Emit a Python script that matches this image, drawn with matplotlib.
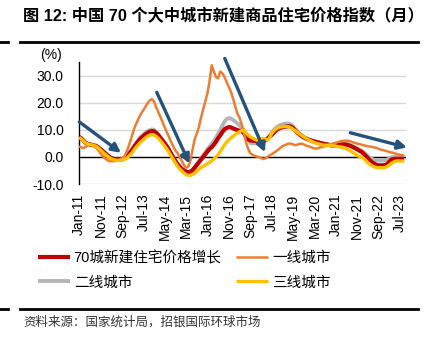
import matplotlib
matplotlib.use("Agg")
import matplotlib.pyplot as plt
import numpy as np

plt.rcParams["font.family"] = ["Liberation Sans", "Noto Sans CJK SC", "DejaVu Sans"]

# --- Data: YoY change (%), monthly Jan-11 .. Sep-23 ---
city70 = [
    7.3, 6.8, 6.0, 5.2, 4.8, 4.6, 4.4, 4.2, 4.0, 3.5, 2.8, 2.2,
    1.5, 0.8, 0.1, -0.4, -0.7, -0.9, -1.0, -1.0, -0.9, -0.6, 0.0, 0.8,
    1.8, 2.8, 4.0, 5.1, 6.1, 7.0, 7.6, 8.3, 8.9, 9.3, 9.5, 9.4,
    8.8, 8.0, 7.0, 6.0, 5.0, 3.9, 2.6, 1.2, -0.2, -1.5, -2.7, -3.6,
    -4.4, -5.0, -5.4, -5.6, -5.5, -4.9, -4.0, -3.0, -2.0, -1.0, 0.0, 1.0,
    2.0, 2.9, 3.6, 4.5, 5.6, 6.9, 8.0, 9.2, 10.2, 10.7, 11.0, 10.9,
    10.5, 10.2, 9.9, 9.6, 9.6, 8.8, 7.5, 6.5, 6.1, 6.0, 5.9, 5.9,
    5.9, 5.9, 6.0, 6.1, 6.6, 7.4, 8.1, 8.9, 9.7, 10.3, 10.7, 10.9,
    11.1, 11.2, 11.3, 11.2, 10.6, 9.8, 9.0, 8.3, 7.7, 7.2, 6.8, 6.5,
    6.2, 5.9, 5.7, 5.5, 5.3, 5.1, 4.9, 4.7, 4.6, 4.4, 4.2, 4.2,
    4.3, 4.4, 4.5, 4.6, 4.6, 4.5, 4.3, 4.0, 3.6, 3.2, 2.8, 2.3,
    1.9, 1.2, 0.4, -0.5, -1.3, -2.0, -2.5, -2.9, -3.1, -3.1, -3.1, -3.0,
    -2.7, -1.8, -1.0, -0.8, -0.7, -0.7, -0.7, -0.7, -0.8,
]
tier1 = [
    3.9, 3.5, 3.3, 3.6, 4.2, 4.5, 4.4, 4.0, 3.3, 2.4, 1.3, 0.3,
    -0.5, -1.1, -1.5, -1.6, -1.6, -1.4, -1.2, -1.0, -0.6, 0.0, 1.5, 3.5,
    6.0, 8.5, 11.0, 12.8, 14.5, 16.0, 17.2, 18.5, 19.8, 20.8, 21.3, 20.5,
    18.4, 16.6, 14.8, 12.8, 10.9, 9.1, 7.4, 5.6, 3.9, 2.4, 1.4, 0.0,
    -1.5, -3.0, -4.0, -3.6, -1.5, 2.5, 6.5, 8.5, 11.0, 14.5, 17.5, 20.5,
    23.5, 28.0, 33.8, 31.5, 29.5, 29.0, 31.5, 30.8, 29.5, 27.5, 25.8, 24.0,
    21.5, 18.5, 16.0, 14.5, 12.0, 9.0, 5.5, 3.0, 1.4, 0.8, 0.4, 0.1,
    0.0, -0.4, -0.8, -0.6, 0.0, 0.5, 1.0, 1.5, 2.0, 2.6, 3.3, 3.9,
    4.3, 4.6, 4.9, 4.9, 4.6, 4.3, 4.5, 4.8, 4.9, 4.6, 4.2, 4.0,
    3.7, 3.4, 3.1, 3.1, 3.3, 3.6, 3.7, 3.9, 4.2, 4.5, 4.8, 5.0,
    5.2, 5.5, 5.7, 5.9, 6.0, 6.0, 5.9, 5.7, 5.4, 5.1, 4.9, 4.7,
    4.5, 4.3, 4.1, 3.9, 3.8, 3.7, 3.5, 3.3, 3.0, 2.7, 2.5, 2.3,
    2.1, 1.8, 1.6, 1.5, 1.2, 1.0, 0.8, 0.6, 0.6,
]
tier2 = [
    7.5, 6.9, 6.1, 5.3, 4.9, 4.7, 4.5, 4.3, 4.1, 3.6, 2.9, 2.2,
    1.5, 0.8, 0.1, -0.4, -0.7, -0.9, -1.0, -1.0, -0.9, -0.6, 0.0, 0.8,
    1.9, 3.0, 4.3, 5.5, 6.6, 7.5, 8.2, 8.9, 9.5, 9.9, 10.1, 10.0,
    9.3, 8.4, 7.3, 6.2, 5.1, 3.9, 2.6, 1.1, -0.3, -1.6, -2.8, -3.8,
    -4.6, -5.2, -5.6, -5.8, -5.6, -4.9, -3.9, -2.8, -1.7, -0.6, 0.5, 1.6,
    2.8, 3.8, 4.8, 5.9, 7.1, 8.5, 10.0, 11.6, 13.0, 14.0, 14.3, 14.1,
    13.6, 13.0, 12.4, 11.6, 10.8, 9.8, 8.3, 6.5, 5.2, 5.0, 5.0, 5.1,
    5.2, 5.4, 5.7, 6.0, 6.7, 7.8, 8.9, 9.9, 10.7, 11.3, 11.7, 12.0,
    12.2, 12.3, 12.3, 12.0, 11.3, 10.4, 9.5, 8.7, 8.0, 7.4, 6.9, 6.5,
    6.2, 5.9, 5.7, 5.5, 5.3, 5.1, 4.9, 4.8, 4.6, 4.5, 4.4, 4.3,
    4.5, 4.7, 4.9, 5.0, 5.0, 4.9, 4.6, 4.3, 3.9, 3.5, 3.1, 2.7,
    2.3, 1.7, 1.0, 0.3, -0.3, -0.8, -1.1, -1.3, -1.3, -1.3, -1.3, -1.2,
    -1.0, -0.6, -0.2, 0.0, 0.1, 0.1, 0.1, 0.1, 0.0,
]
tier3 = [
    7.2, 6.6, 5.9, 5.2, 4.8, 4.6, 4.4, 4.2, 3.9, 3.3, 2.5, 1.8,
    1.1, 0.4, -0.2, -0.7, -1.0, -1.2, -1.3, -1.3, -1.2, -1.0, -0.6, 0.0,
    0.9, 1.8, 2.9, 3.9, 4.8, 5.6, 6.3, 7.0, 7.6, 8.0, 8.2, 8.1,
    7.6, 6.9, 6.0, 5.0, 4.0, 2.9, 1.7, 0.4, -0.9, -2.2, -3.4, -4.4,
    -5.2, -6.0, -6.5, -6.8, -6.8, -6.5, -6.0, -5.3, -4.6, -4.0, -3.5, -3.0,
    -2.5, -2.0, -1.5, -0.8, 0.0, 0.8, 2.0, 3.3, 4.5, 5.5, 6.3, 7.0,
    7.6, 8.2, 8.8, 9.3, 9.7, 9.8, 9.0, 8.0, 7.4, 7.0, 6.5, 6.2,
    6.2, 6.6, 6.8, 6.5, 6.2, 7.0, 8.6, 9.6, 10.3, 10.7, 11.0, 11.1,
    11.2, 11.2, 11.1, 10.8, 10.2, 9.7, 9.1, 8.5, 7.9, 7.4, 6.9, 6.5,
    6.0, 5.6, 5.3, 5.0, 4.8, 4.6, 4.4, 4.3, 4.3, 4.3, 4.2, 4.1,
    4.0, 3.8, 3.7, 3.6, 3.3, 3.0, 2.6, 2.1, 1.6, 1.1, 0.6, 0.1,
    0.0, -0.6, -1.3, -2.1, -2.8, -3.3, -3.7, -3.9, -4.0, -4.0, -4.0, -3.9,
    -3.6, -3.0, -2.4, -1.9, -1.6, -1.5, -1.5, -1.5, -1.6,
]

tick_labels = ["Jan-11", "Nov-11", "Sep-12", "Jul-13", "May-14", "Mar-15",
               "Jan-16", "Nov-16", "Sep-17", "Jul-18", "May-19", "Mar-20",
               "Jan-21", "Nov-21", "Sep-22", "Jul-23"]
tick_step = 10  # months between labels

# trend arrows: (month index, value) start -> end
arrow_starts = [(0.1, 12.9), (36.3, 23.8), (68.1, 36.3), (126.8, 8.9)]
arrow_ends = [(19.6, 1.5), (51.6, -2.5), (86.9, 1.7), (153.3, 3.5)]

series = [
    ("70城新建住宅价格增长", city70, "#C00000", 3.0, 3),
    ("二线城市", tier2, "#B4B4B4", 2.8, 2),
    ("一线城市", tier1, "#ED7D31", 1.8, 4),
    ("三线城市", tier3, "#FFC000", 2.4, 5),
]

# --- Figure ---
fig = plt.figure(figsize=(4.32, 3.43), dpi=100)
ax = fig.add_axes([78.7 / 432, 1 - 184 / 343, (405.7 - 78.7) / 432, 122 / 343])

x = np.arange(len(city70))
for label, vals, color, lw, z in series:
    ax.plot(x, vals, color=color, linewidth=lw, label=label, zorder=z,
            solid_capstyle="butt")

ax.axhline(0, color="black", linewidth=1.0, zorder=1)

ax.set_xlim(-0.2, 152.7)
ax.set_ylim(-10, 35)
ax.set_yticks([-10, 0, 10, 20, 30])
ax.set_yticklabels([f"{v:.1f}" for v in [-10, 0, 10, 20, 30]], fontsize=10)
ax.set_xticks(np.arange(len(tick_labels)) * tick_step)
ax.set_xticklabels(tick_labels, rotation=90, fontsize=10)
ax.tick_params(axis="both", length=0)
ax.tick_params(axis="x", pad=7)
ax.tick_params(axis="y", pad=11)

ax.grid(axis="y", color="#D9D9D9", linewidth=1.0, zorder=0)
ax.set_axisbelow(True)
for side in ["top", "right", "bottom"]:
    ax.spines[side].set_visible(False)
ax.spines["left"].set_color("black")
ax.spines["left"].set_linewidth(1.0)

ax.text(-0.085, 1.0, "(%)", transform=ax.transAxes, fontsize=10,
        ha="center", va="bottom")

# arrows
for (x0, y0), (x1, y1) in zip(arrow_starts, arrow_ends):
    ax.annotate("", xy=(x1, y1), xytext=(x0, y0), annotation_clip=False,
                arrowprops=dict(arrowstyle="-|>", color="#24527A", lw=2.4,
                                mutation_scale=13, shrinkA=0, shrinkB=0),
                zorder=6)

# legend
handles, labels = ax.get_legend_handles_labels()
fig.legend(handles, labels,
           ncol=2, loc="upper left", bbox_to_anchor=(38 / 432, 1 - 251 / 343),
           frameon=False, fontsize=10.5, handlelength=2.2, handletextpad=0.25,
           columnspacing=1.0, labelspacing=0.7, borderpad=0,
           borderaxespad=0)

# title and rules
fig.text(23 / 432, 1 - 16 / 343, "图 12: 中国 70 个大中城市新建商品住宅价格指数（月）",
         fontsize=11.7, fontweight="bold", ha="left", va="center")
for yy in [42, 309]:
    fig.add_artist(plt.Line2D([20 / 432, 418 / 432], [1 - yy / 343] * 2,
                              color="black", linewidth=2.0))
    fig.add_artist(plt.Line2D([0, 8 / 432], [1 - yy / 343] * 2,
                              color="black", linewidth=2.0))

fig.text(23 / 432, 1 - 322 / 343, "资料来源：国家统计局，招银国际环球市场",
         fontsize=9, color="#333333", ha="left", va="center")

fig.savefig("out.png", dpi=100, facecolor="white")
